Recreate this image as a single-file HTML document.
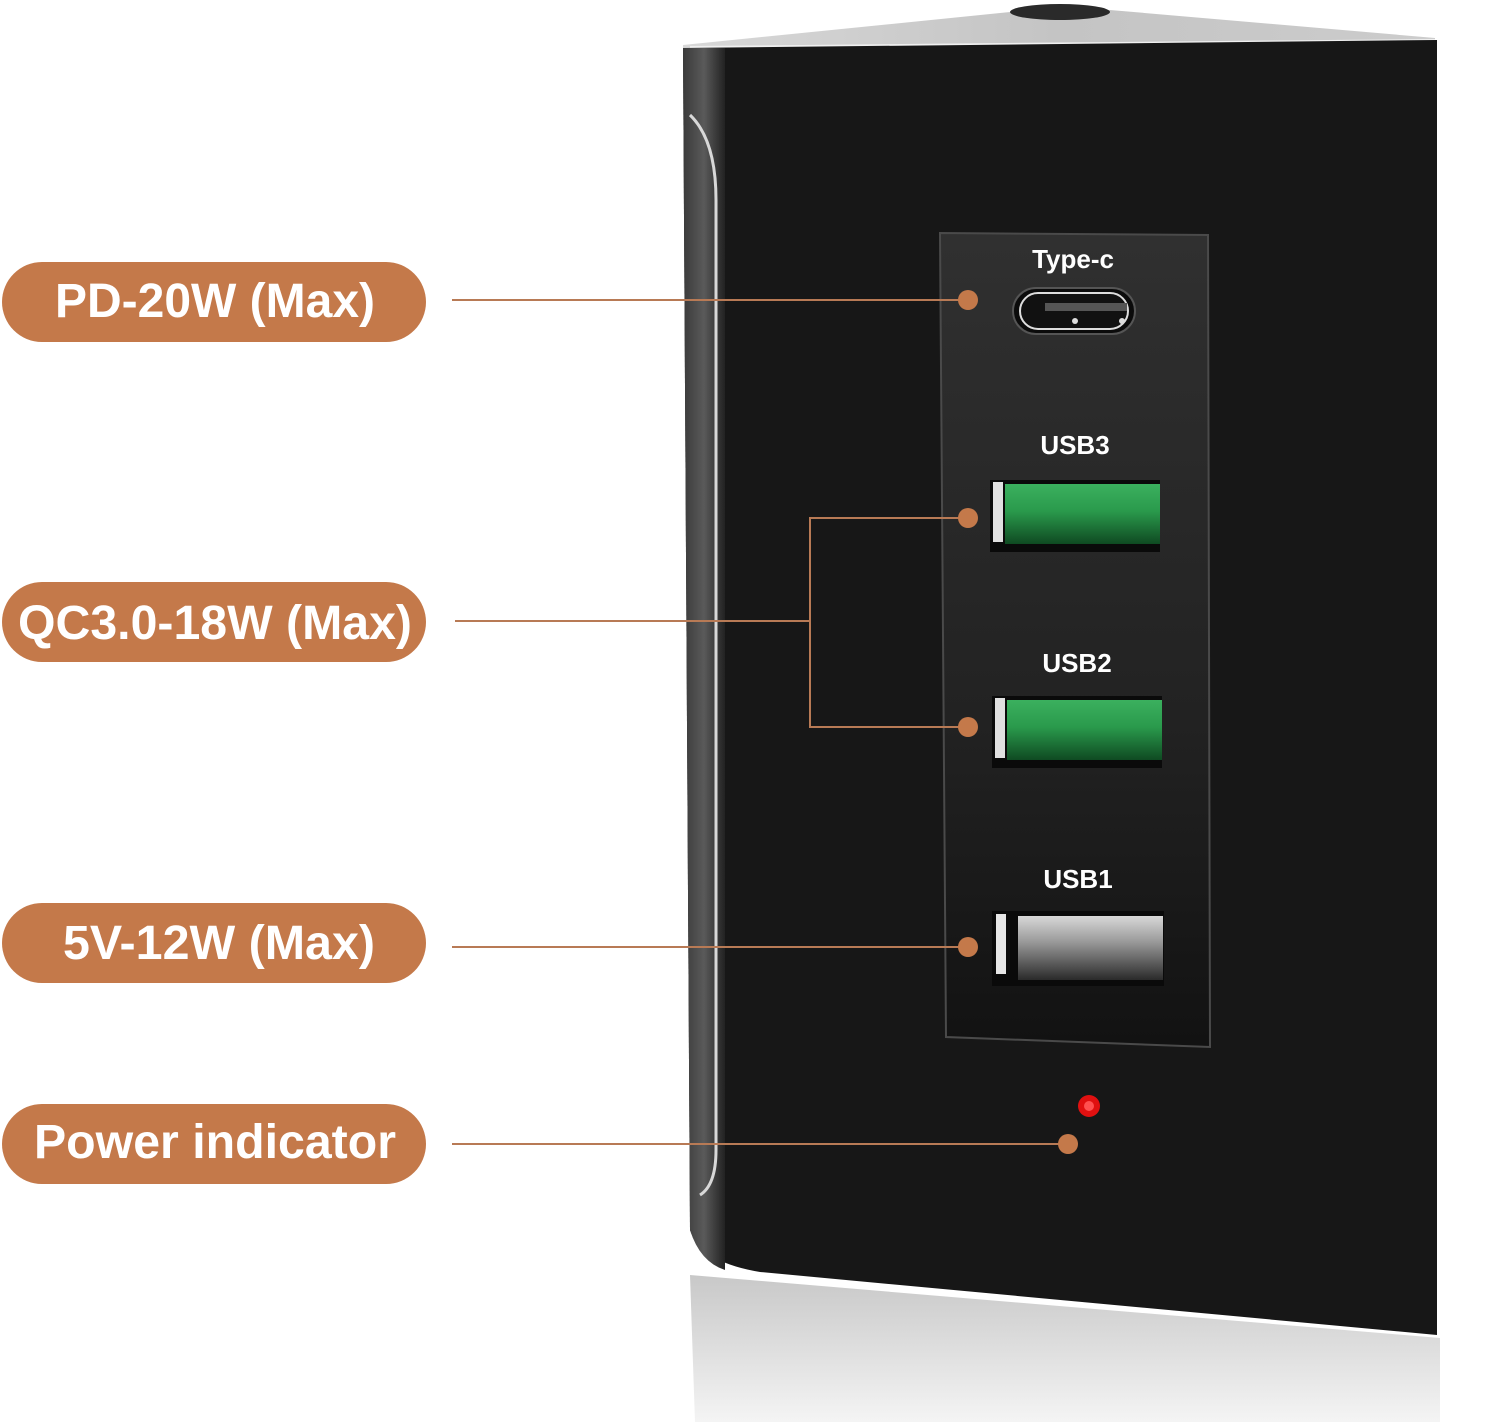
<!DOCTYPE html>
<html><head><meta charset="utf-8"><style>
html,body{margin:0;padding:0;background:#fff;}
svg{display:block;}
</style></head><body>
<svg width="1500" height="1422" viewBox="0 0 1500 1422" xmlns="http://www.w3.org/2000/svg">
<defs>
<linearGradient id="refl" x1="0" y1="0" x2="0" y2="1">
<stop offset="0" stop-color="#c8c8c8"/><stop offset="1" stop-color="#f4f4f4"/>
</linearGradient>
<linearGradient id="panel" x1="0" y1="0" x2="0" y2="1">
<stop offset="0" stop-color="#303030"/><stop offset="0.6" stop-color="#222"/><stop offset="1" stop-color="#121212"/>
</linearGradient>
<linearGradient id="top" x1="0" y1="0" x2="1" y2="0">
<stop offset="0" stop-color="#d8d8d8"/><stop offset="0.5" stop-color="#c4c4c4"/><stop offset="1" stop-color="#cccccc"/>
</linearGradient>
<linearGradient id="side" x1="0" y1="0" x2="1" y2="0">
<stop offset="0" stop-color="#3a3a3a"/><stop offset="0.5" stop-color="#5a5a5a"/><stop offset="1" stop-color="#222"/>
</linearGradient>
<linearGradient id="green" x1="0" y1="0" x2="0" y2="1">
<stop offset="0" stop-color="#3bb05e"/><stop offset="0.45" stop-color="#2a9a4c"/><stop offset="1" stop-color="#0f4a22"/>
</linearGradient>
<linearGradient id="silver" x1="0" y1="0" x2="0" y2="1">
<stop offset="0" stop-color="#d8d8d8"/><stop offset="0.4" stop-color="#9a9a9a"/><stop offset="1" stop-color="#2a2a2a"/>
</linearGradient>
</defs>

<polygon points="690,1275 1440,1338 1440,1422 695,1422" fill="url(#refl)"/>
<polygon points="683,45 1010,12 1110,10 1435,38 1435,46 683,50" fill="url(#top)"/>
<ellipse cx="1060" cy="12" rx="50" ry="8" fill="#2a2a2a"/>
<line x1="690" y1="47" x2="1435" y2="40" stroke="#f0f0f0" stroke-width="2"/>
<path d="M683,48 L1437,40 L1437,1335 L760,1272 Q700,1262 690,1230 Z" fill="#171717"/>
<path d="M683,48 L725,48 L725,1270 Q700,1262 690,1230 Z" fill="url(#side)"/>
<path d="M690,115 Q716,140 716,200 L716,1150 Q716,1185 700,1195" fill="none" stroke="#d8d8d8" stroke-width="3"/>

<polygon points="940,233 1208,235 1210,1047 946,1037" fill="url(#panel)" stroke="#4a4a4a" stroke-width="2"/>

<g font-family="Liberation Sans, sans-serif" font-weight="bold" fill="#fff" text-anchor="middle" font-size="26">
<text x="1073" y="268">Type-c</text>
<text x="1075" y="454">USB3</text>
<text x="1077" y="672">USB2</text>
<text x="1078" y="888">USB1</text>
</g>

<rect x="1013" y="288" width="122" height="46" rx="23" fill="#0b0b0b" stroke="#555" stroke-width="2"/>
<rect x="1020" y="293" width="108" height="36" rx="18" fill="#111" stroke="#ddd" stroke-width="2"/>
<rect x="1045" y="303" width="82" height="8" fill="#555"/>
<circle cx="1075" cy="321" r="3" fill="#ddd"/><circle cx="1122" cy="321" r="3" fill="#ddd"/>

<rect x="990" y="480" width="170" height="72" fill="#0a0a0a"/>
<rect x="1005" y="484" width="155" height="60" fill="url(#green)"/>
<rect x="993" y="482" width="10" height="60" fill="#e0e0e0"/>
<rect x="992" y="696" width="170" height="72" fill="#0a0a0a"/>
<rect x="1007" y="700" width="155" height="60" fill="url(#green)"/>
<rect x="995" y="698" width="10" height="60" fill="#e0e0e0"/>
<rect x="992" y="911" width="172" height="75" fill="#0a0a0a"/>
<rect x="1018" y="916" width="145" height="64" fill="url(#silver)"/>
<rect x="996" y="914" width="10" height="60" fill="#e6e6e6"/>

<circle cx="1089" cy="1106" r="11" fill="#e01010"/>
<circle cx="1089" cy="1106" r="5" fill="#ff5050"/>

<g stroke="#b87a55" stroke-width="2" fill="none">
<line x1="452" y1="300" x2="968" y2="300"/>
<line x1="455" y1="621" x2="810" y2="621"/>
<polyline points="968,518 810,518 810,727 968,727"/>
<line x1="452" y1="947" x2="968" y2="947"/>
<line x1="452" y1="1144" x2="1068" y2="1144"/>
</g>
<g fill="#c4794a">
<circle cx="968" cy="300" r="10"/><circle cx="968" cy="518" r="10"/><circle cx="968" cy="727" r="10"/>
<circle cx="968" cy="947" r="10"/><circle cx="1068" cy="1144" r="10"/>
</g>

<g fill="#c4794a">
<rect x="2" y="262" width="424" height="80" rx="40"/>
<rect x="2" y="582" width="424" height="80" rx="40"/>
<rect x="2" y="903" width="424" height="80" rx="40"/>
<rect x="2" y="1104" width="424" height="80" rx="40"/>
</g>
<g font-family="Liberation Sans, sans-serif" font-weight="bold" fill="#fff" text-anchor="middle" font-size="48">
<text x="215" y="317" textLength="320" lengthAdjust="spacingAndGlyphs">PD-20W (Max)</text>
<text x="215" y="639" textLength="394" lengthAdjust="spacingAndGlyphs">QC3.0-18W (Max)</text>
<text x="219" y="959" textLength="312" lengthAdjust="spacingAndGlyphs">5V-12W (Max)</text>
<text x="215" y="1158" textLength="362" lengthAdjust="spacingAndGlyphs">Power indicator</text>
</g>
</svg>
</body></html>
